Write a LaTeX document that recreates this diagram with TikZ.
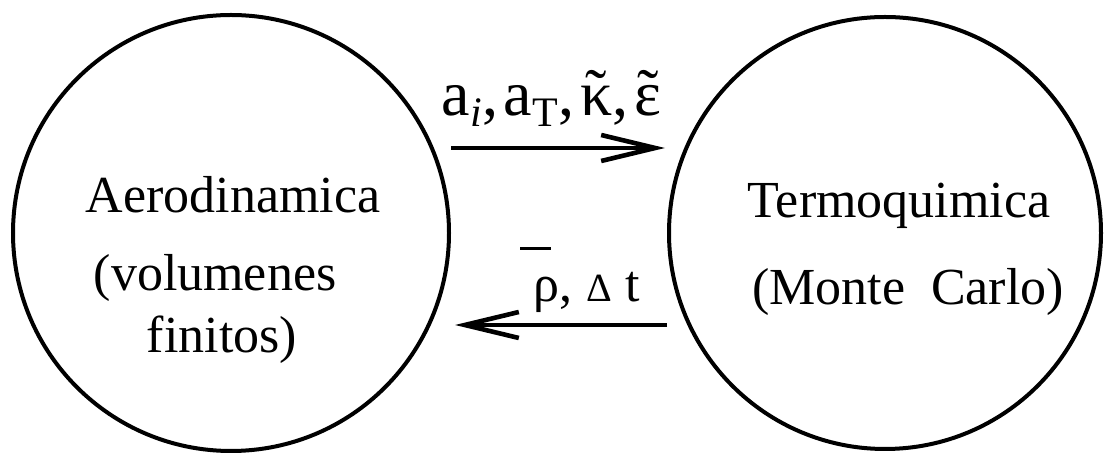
\documentclass[tikz,border=0pt]{standalone}
\usepackage{fontspec}
\setmainfont{Liberation Serif}
\usetikzlibrary{arrows.meta}
\newcommand{\lowidx}[1]{\raisebox{-5.5pt}{\fontsize{21}{21}\selectfont #1}}
\newcommand{\highbar}[1]{\leavevmode\rlap{\kern-6.5pt\raisebox{26pt}{\rule{15.5pt}{1.5pt}}}#1}
\newcommand{\hightilde}[1]{\leavevmode\setbox0\hbox{#1}\rlap{\hbox to\wd0{\hss\raisebox{1pt}{\char"02DC}\hss}}\box0}
\begin{document}
\begin{tikzpicture}[
  x=0.5pt, y=-0.5pt,
  module/.style={draw, circle, line width=2pt, inner sep=0pt},
  txt/.style={anchor=base, inner sep=0pt, font=\fontsize{26}{31}\selectfont},
  flow/.style={-{Straight Barb[length=27pt, width=13pt]}, line width=2.3pt},
  lbl/.style={anchor=base, inner sep=0pt},
]
\useasboundingbox (0,0) rectangle (1104,458);
% the two solvers
\node[module, minimum size=218pt] (aero) at (231,233) {};
\node[module, minimum size=216pt] (termo) at (885,233) {};
% circle texts
\node[txt] (aerol1) at (233,213) {Aerodinamica};
\node[txt] (aerol2) at (215,291) {(volumenes};
\node[txt] (aerol3) at (222,353) {finitos)};
\node[txt] (terml1) at (899,218) {Termoquimica};
\node[txt] (terml2) at (908,305) {(Monte~~Carlo)};
% exchanged quantities
\draw[flow] ([yshift=42.5pt]aero.east) -- ([yshift=42.5pt, xshift=-1pt]termo.west)
  node[lbl, pos=0.47, yshift=16pt, font=\fontsize{32}{36}\selectfont]
  (fwd) {a\lowidx{\itshape i},\kern3pt a\lowidx{T},\kern3pt \hightilde{κ},\kern3pt \hightilde{ε}};
\draw[flow] ([yshift=-46pt]termo.west) -- ([yshift=-46pt, xshift=2pt]aero.east)
  node[lbl, pos=0.38, yshift=11.5pt, font=\fontsize{26}{31}\selectfont]
  (bwd) {\highbar{ρ},\hspace{7pt}{\fontsize{20}{20}\selectfont Δ}\hspace{6.5pt}t};
\end{tikzpicture}
\end{document}
